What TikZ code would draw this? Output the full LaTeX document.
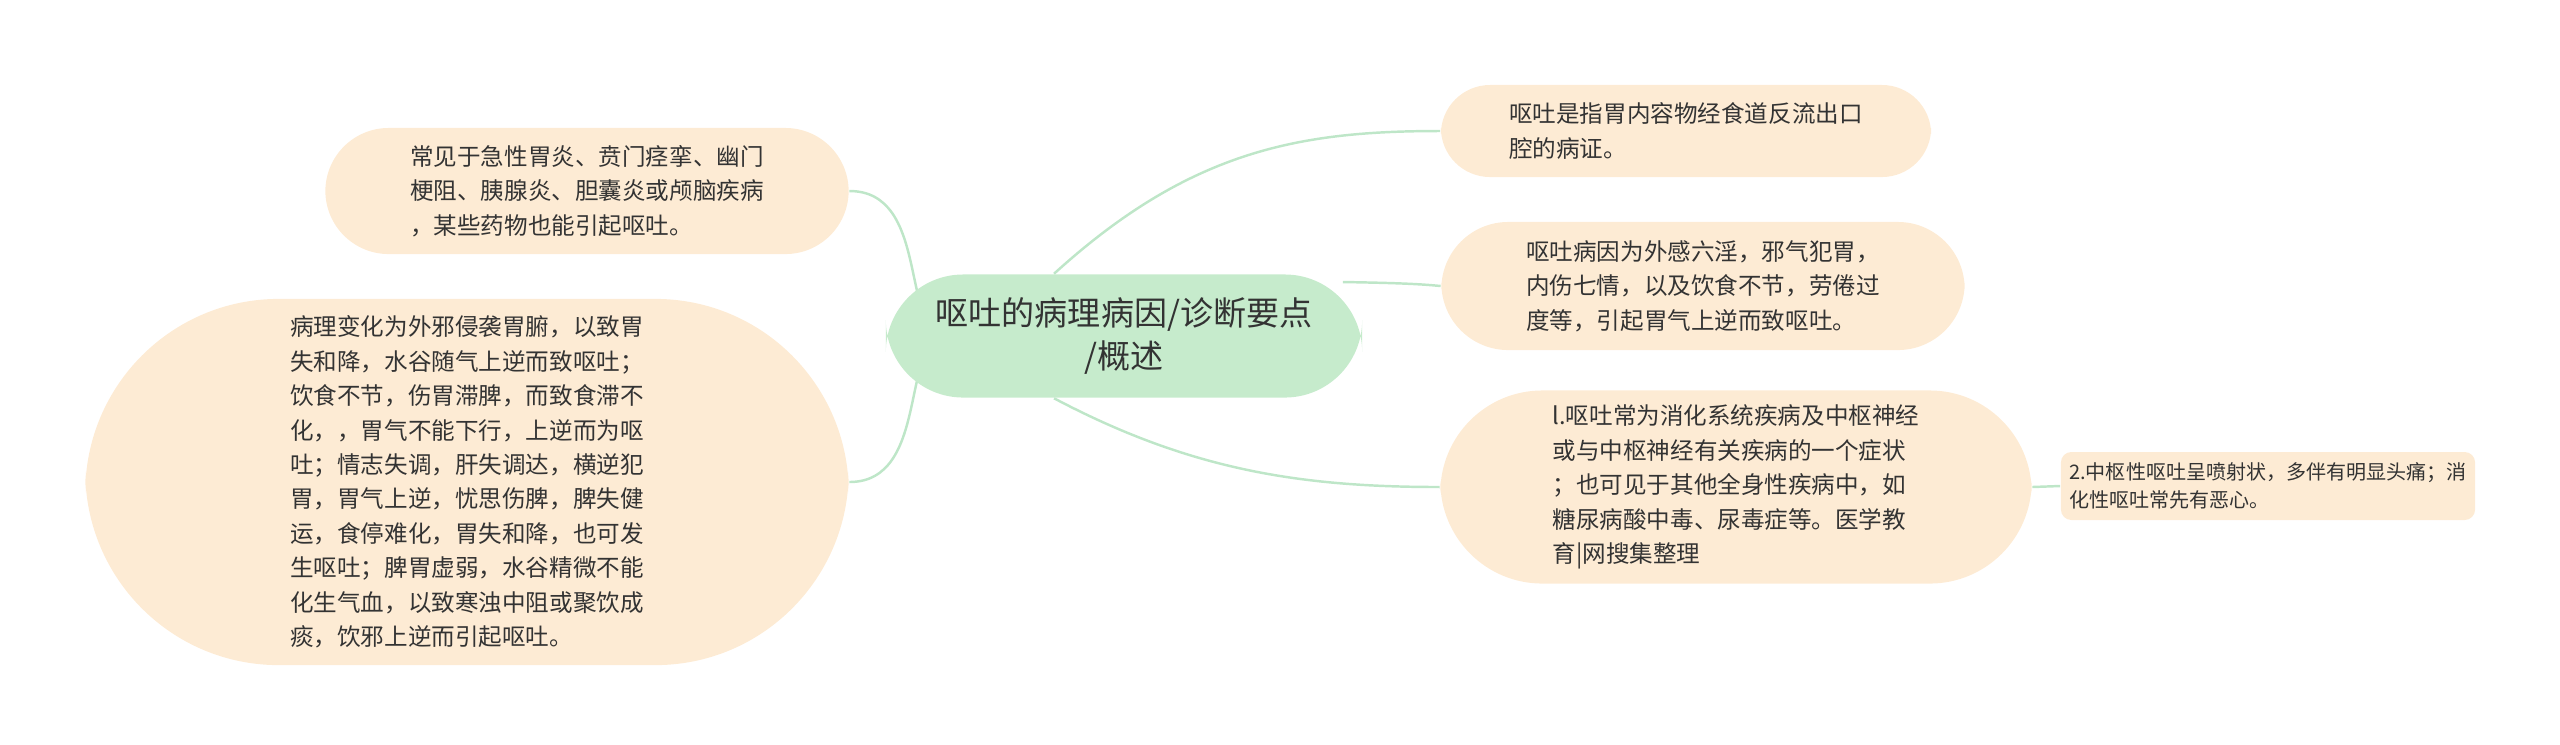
\documentclass[tikz,border=0pt]{standalone}
\usepackage{fontspec}
\setmainfont{Noto Sans CJK SC}
\usepackage{tikz}
\usetikzlibrary{backgrounds}
\definecolor{leafbg}{HTML}{FDEBD4}
\definecolor{rootbg}{HTML}{C6EBCC}
\definecolor{linkc}{HTML}{BEE6C8}
\definecolor{txt}{HTML}{333333}
\tikzset{
  leaf/.style={fill=leafbg, rounded corners=40pt, align=left, text=txt, font=\fontsize{6.7}{9.8}\selectfont, inner sep=0pt},
  link/.style={draw=linkc, line width=0.7pt}
}
\begin{document}
\begin{tikzpicture}[x=0.01cm,y=-0.01cm]
        % Canvas
        \useasboundingbox (0,0) rectangle (2560,744);

        % Root
        \node[fill=rootbg, rounded corners=22pt, minimum width=4.76cm, minimum height=1.23cm, align=center, text=txt, font=\fontsize{9.4}{12.5}\selectfont] (root) at (1124,336) {呕吐的病理病因/诊断要点\\/概述};

        % Left side
        \node[leaf, minimum width=5.23cm, minimum height=1.26cm, rounded corners=18pt] (causes) at (587,191) {常见于急性胃炎、贲门痉挛、幽门\\梗阻、胰腺炎、胆囊炎或颅脑疾病\\，某些药物也能引起呕吐。};
        \node[leaf, minimum width=7.63cm, minimum height=3.66cm, rounded corners=55pt] (patho) at (467,482) {病理变化为外邪侵袭胃腑，以致胃\\失和降，水谷随气上逆而致呕吐；\\饮食不节，伤胃滞脾，而致食滞不\\化，，胃气不能下行，上逆而为呕\\吐；情志失调，肝失调达，横逆犯\\胃，胃气上逆，忧思伤脾，脾失健\\运，食停难化，胃失和降，也可发\\生呕吐；脾胃虚弱，水谷精微不能\\化生气血，以致寒浊中阻或聚饮成\\痰，饮邪上逆而引起呕吐。};

        % Right side
        \node[leaf, minimum width=4.90cm, minimum height=0.92cm, rounded corners=14pt] (define) at (1686,131) {呕吐是指胃内容物经食道反流出口\\腔的病证。};
        \node[leaf, minimum width=5.23cm, minimum height=1.28cm, rounded corners=19pt] (origin) at (1703,286) {呕吐病因为外感六淫，邪气犯胃，\\内伤七情，以及饮食不节，劳倦过\\度等，引起胃气上逆而致呕吐。};
        \node[leaf, minimum width=5.91cm, minimum height=1.93cm, rounded corners=29pt] (sympt) at (1736,487) {l.呕吐常为消化系统疾病及中枢神经\\或与中枢神经有关疾病的一个症状\\；也可见于其他全身性疾病中，如\\糖尿病酸中毒、尿毒症等。医学教\\育|网搜集整理};
        \node[leaf, minimum width=4.14cm, minimum height=0.68cm, rounded corners=3pt, font=\fontsize{5.7}{8}\selectfont] (central) at (2268,486) {2.中枢性呕吐呈喷射状，多伴有明显头痛；消\\化性呕吐常先有恶心。};

        % Connectors
        \path (root.west) ++(60,0) coordinate (rl);
        \path (root.north) ++(-70,0) coordinate (rt);
        \path (root.east) ++(-20,-54) coordinate (rr);
        \path (root.south) ++(-70,0) coordinate (rb);
        \begin{scope}[on background layer]
        \draw[link] (causes.east) .. controls (930,191) and (900,330) .. (rl);
        \draw[link] (patho.east) .. controls (930,482) and (900,340) .. (rl);
        \draw[link] (rt) .. controls (1190,150) and (1300,131) .. (define.west);
        \draw[link] (rr) .. controls (1400,283) and (1420,284) .. (origin.west);
        \draw[link] (rb) .. controls (1190,470) and (1300,487) .. (sympt.west);
        \draw[link] (sympt.east) -- (central.west);
        \end{scope}
\end{tikzpicture}
\end{document}
